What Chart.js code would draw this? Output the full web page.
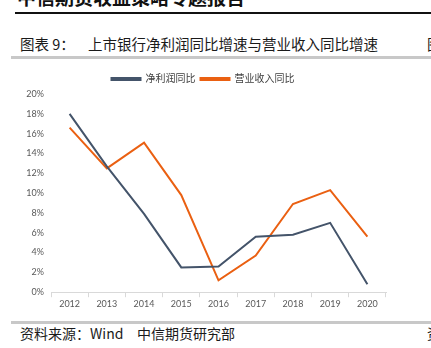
<!DOCTYPE html>
<html>
<head>
<meta charset="utf-8">
<script src="https://cdn.jsdelivr.net/npm/chart.js@4.4.1/dist/chart.umd.min.js"></script>
<style>
  html, body { margin:0; padding:0; background:#fff; }
  body { width:431px; height:348px; position:relative; overflow:hidden;
         font-family:"Noto Sans CJK SC", "Noto Sans", sans-serif; color:#1a1a1a; }
  .abs { position:absolute; white-space:nowrap; }
  #top  { left:17px; top:-13px; font-size:19px; font-weight:bold; line-height:19px; color:#111; }
  #rule1 { left:15px; top:12px; width:416px; height:2px; background:#111; }
  .cap  { top:35px; font-size:14.5px; line-height:17px; }
  #rule2 { left:11px; top:56px; width:420px; height:3px; background:#c8c8c8; }
  #box  { left:0; top:62px; width:431px; height:248px; }
  #rule3 { left:11px; top:321px; width:420px; height:3px; background:#c8c8c8; }
  .src  { top:325px; font-size:14px; line-height:17px; }
</style>
</head>
<body>
<div class="abs" id="top">中信期货收益策略专题报告</div>
<div class="abs" id="rule1"></div>
<div class="abs cap" style="left:20px;">图表 9：</div>
<div class="abs cap" style="left:88px;">上市银行净利润同比增速与营业收入同比增速</div>
<div class="abs cap" style="left:427px;">图</div>
<div class="abs" id="rule2"></div>
<div class="abs" id="box"><canvas id="chart"></canvas></div>
<div class="abs" id="rule3"></div>
<div class="abs src" style="left:20px;">资料来源：Wind</div>
<div class="abs src" style="left:137px;">中信期货研究部</div>
<div class="abs src" style="left:427px;">资</div>
<script>
// ---- data ----
const years   = ['2012','2013','2014','2015','2016','2017','2018','2019','2020'];
const profit  = [18.0, 12.7, 7.9, 2.5, 2.6, 5.6, 5.8, 7.0, 0.8];   // 净利润同比 (%)
const revenue = [16.6, 12.5, 15.1, 9.8, 1.2, 3.7, 8.9, 10.3, 5.6]; // 营业收入同比 (%)

const GRAY = '#44546a';
const ORNG = '#ea6012';
const TXT  = '#595959';
const AX   = '#d9d9d9';
const FONT = "Lato, 'Noto Sans CJK SC', sans-serif";

new Chart(document.getElementById('chart'), {
  type: 'line',
  data: {
    labels: years,
    datasets: [
      { label:'净利润同比',   data:profit,  borderColor:GRAY, backgroundColor:GRAY, borderWidth:2, pointRadius:0, tension:0 },
      { label:'营业收入同比', data:revenue, borderColor:ORNG, backgroundColor:ORNG, borderWidth:2, pointRadius:0, tension:0 },
    ]
  },
  options: {
    responsive: true, maintainAspectRatio: false, animation: false,
    layout: { padding: { left: 20, right: 45, top: 7, bottom: 0 } },
    plugins: {
      legend: {
        labels: { color:'#404040', font:{ size:10, family:FONT }, boxWidth:29, boxHeight:2, padding:5 }
      },
      tooltip: { enabled:false }
    },
    scales: {
      y: {
        min: 0, max: 20,
        ticks: { stepSize: 2, color: TXT, font:{ size:9, family:FONT }, padding: 7, callback: v => v + '%' },
        grid: { display: false, drawTicks: false },
        border: { display: false },
        afterFit: s => { s.width = 31; }
      },
      x: {
        offset: true,
        grid: { display: true, offset: true, drawOnChartArea: false, color: AX, tickLength: 5 },
        border: { color: AX },
        ticks: { color: TXT, font:{ size:9, family:FONT }, padding: 1, maxRotation: 0 }
      }
    }
  }
});
</script>
</body>
</html>
